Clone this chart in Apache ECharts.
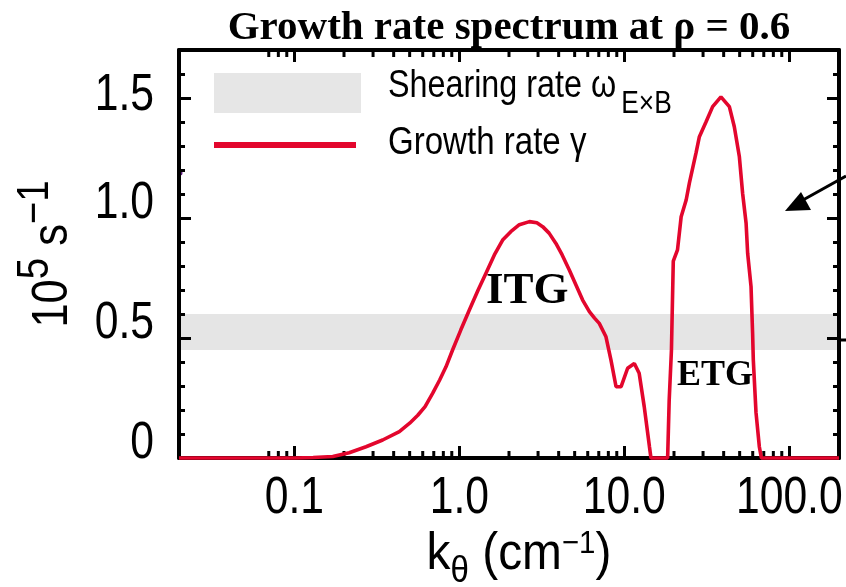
<!DOCTYPE html>
<html>
<head>
<meta charset="utf-8">
<script src="https://cdn.jsdelivr.net/npm/echarts@6/dist/echarts.min.js"></script>
<style>
  html, body { margin: 0; padding: 0; background: #fff; }
  #chart { width: 846px; height: 587px; }
</style>
</head>
<body>
<div id="chart"></div>
<script>
// Poloidal wavenumber k_theta (cm^-1)
const kTheta = [
  0.02, 0.1, 0.13, 0.171, 0.215, 0.272, 0.343, 0.433, 0.5, 0.56,
  0.62, 0.69, 0.76, 0.83, 0.91, 1.02, 1.15, 1.3, 1.45, 1.63,
  1.83, 2.05, 2.31, 2.66, 2.95, 3.2, 3.5, 3.85, 4.2, 4.64,
  5.1, 5.59, 6.14, 6.6, 7.05, 7.74, 8.3, 8.91, 9.56, 10.47,
  11.5, 12.3, 13.2, 14.2, 14.5, 18.3, 18.7, 19.3, 19.8, 21.0,
  22.1, 23.7, 24.8, 27.2, 28.5, 31.3, 34.3, 38.5, 43.3, 46.4,
  49.8, 52.1, 54.7, 55.9, 58.6, 59.9, 60.5, 62.8, 65.8, 67.7,
  200
];
// Linear growth rate gamma (10^5 s^-1)
const growthRate = [
  0, 0, 0.002, 0.006, 0.022, 0.047, 0.075, 0.11, 0.145, 0.178,
  0.214, 0.27, 0.325, 0.38, 0.45, 0.533, 0.617, 0.70, 0.77, 0.846,
  0.908, 0.943, 0.972, 0.985, 0.98, 0.964, 0.937, 0.894, 0.846, 0.783,
  0.72, 0.658, 0.61, 0.583, 0.561, 0.505, 0.408, 0.297, 0.297, 0.374,
  0.394, 0.353, 0.214, 0.047, 0, 0, 0.24, 0.45, 0.82, 0.867,
  1.005, 1.075, 1.146, 1.271, 1.339, 1.401, 1.464, 1.505, 1.464, 1.38,
  1.255, 1.103, 0.978, 0.853, 0.714, 0.52, 0.408, 0.19, 0.047, 0,
  0
];
// E x B shearing rate band (10^5 s^-1)
const shearBand = [0.45, 0.60];

// Axis ticks and labels
const xTicks = [0.1, 1, 10, 100];
const xTickLabels = ['0.1', '1.0', '10.0', '100.0'];
const xMinorTicks = [0.07, 0.08, 0.09, 0.2, 0.3, 0.4, 0.5, 0.6, 0.7, 0.8, 0.9,
                     2, 3, 4, 5, 6, 7, 8, 9, 20, 30, 40, 50, 60, 70, 80, 90];
const yTicks = [0, 0.5, 1.0, 1.5];
const yTickLabels = ['0', '0.5', '1.0', '1.5'];

// Instability regime annotations
const regimeNames = ['ITG', 'ETG'];
const regimeAnchorK = [2.58, 35.4];
const regimeAnchorGamma = [0.696, 0.342];

const X_MIN = 0.02, X_MAX = 200, Y_MAX = 1.7;
const SANS = "'Liberation Sans', Arial, sans-serif";
const SERIF = "'Liberation Serif', 'Times New Roman', serif";
const RED = '#e3062d';
const CONDENSE = 0.82;   // horizontal squeeze giving a narrow sans face

const frameLine = { show: true, onZero: false, lineStyle: { color: '#000', width: 4 } };
const majorTick = { show: true, inside: true, length: 12, lineStyle: { color: '#000', width: 3 } };
const yMinorTick = { show: true, splitNumber: 5, length: 6, lineStyle: { color: '#000', width: 3 } };
const regimeFont = [45, 36];
// vertical nudge (px) of each y tick label below its default spot
const yLabelDrop = [0, 0, 0, 12];

const chart = echarts.init(document.getElementById('chart'), null, { renderer: 'canvas' });

chart.setOption({
  animation: false,
  title: {
    text: 'Growth rate spectrum at ρ = 0.6',
    left: 509, top: 8, padding: 0, textAlign: 'center',
    textStyle: { fontFamily: SERIF, fontWeight: 'bold', fontSize: 41, color: '#000' }
  },
  grid: { left: 179, right: 7, top: 50, bottom: 129 },
  xAxis: [
    {
      type: 'log', logBase: 10, min: X_MIN, max: X_MAX, position: 'bottom',
      axisLine: frameLine, axisTick: majorTick, minorTick: { show: false },
      splitLine: { show: false }, axisLabel: { show: false }, z: 1.5
    },
    {
      type: 'log', logBase: 10, min: X_MIN, max: X_MAX, position: 'top',
      axisLine: frameLine, axisTick: majorTick, minorTick: { show: false },
      splitLine: { show: false }, axisLabel: { show: false }, z: 1.5
    }
  ],
  yAxis: [
    {
      type: 'value', min: 0, max: Y_MAX, interval: 0.5, position: 'left',
      axisLine: frameLine, axisTick: majorTick, minorTick: yMinorTick,
      splitLine: { show: false }, axisLabel: { show: false }, z: 1.5
    },
    {
      type: 'value', min: 0, max: Y_MAX, interval: 0.5, position: 'right',
      axisLine: frameLine, axisTick: majorTick, minorTick: yMinorTick,
      splitLine: { show: false }, axisLabel: { show: false }, z: 1.5
    }
  ],
  series: [
    {
      // shearing-rate band
      type: 'line', data: [], z: 1, silent: true,
      markArea: {
        silent: true,
        itemStyle: { color: '#e5e5e5' },
        data: [[{ yAxis: shearBand[0] }, { yAxis: shearBand[1] }]]
      }
    },
    {
      // logarithmic minor ticks on bottom and top frame
      type: 'custom', z: 1.6, silent: true, clip: false,
      data: xMinorTicks.map(v => [v, 0]),
      renderItem: (params, api) => {
        const b = api.coord([api.value(0), 0]);
        const t = api.coord([api.value(0), Y_MAX]);
        return {
          type: 'group',
          children: [
            { type: 'line', shape: { x1: b[0], y1: b[1], x2: b[0], y2: b[1] - 7 },
              style: { stroke: '#000', lineWidth: 3 } },
            { type: 'line', shape: { x1: t[0], y1: t[1], x2: t[0], y2: t[1] + 7 },
              style: { stroke: '#000', lineWidth: 3 } }
          ]
        };
      }
    },
    {
      name: 'Growth rate γ',
      type: 'line', z: 2, silent: true, clip: false,
      symbol: 'none', showSymbol: false,
      lineStyle: { color: RED, width: 3.6 },
      data: kTheta.map((k, i) => [k, growthRate[i]])
    }
  ]
});

// Texts placed through the axis scales
const px = v => chart.convertToPixel({ xAxisIndex: 0 }, v);
const py = v => chart.convertToPixel({ yAxisIndex: 0 }, v);
const axisY = py(0);
const axisX = px(X_MIN);

const tickText = (text, x, y, align) => ({
  type: 'text', x: x, y: y, scaleX: CONDENSE, z: 50,
  style: { text: text, align: align, verticalAlign: 'bottom',
           fontFamily: SANS, fontSize: 52, fill: '#000' }
});

const texts = [];
xTicks.forEach((v, i) => texts.push(tickText(xTickLabels[i], px(v), axisY + 67, 'center')));
yTicks.forEach((v, i) => texts.push(tickText(yTickLabels[i], axisX - 25, py(v) + 12 + yLabelDrop[i], 'right')));
regimeNames.forEach((n, i) => {
  const p = chart.convertToPixel({ xAxisIndex: 0, yAxisIndex: 0 }, [regimeAnchorK[i], regimeAnchorGamma[i]]);
  texts.push({
    type: 'text', x: p[0], y: p[1], z: 50,
    style: { text: n, align: 'center', verticalAlign: 'middle',
             fontFamily: SERIF, fontWeight: 'bold', fontSize: regimeFont[i], fill: '#000' }
  });
});

chart.setOption({
  graphic: texts.concat([
    // legend
    { type: 'rect', shape: { x: 214, y: 73, width: 147, height: 40 }, style: { fill: '#e6e6e6' } },
    { type: 'line', shape: { x1: 214, y1: 145, x2: 356, y2: 145 }, style: { stroke: RED, lineWidth: 6 } },
    {
      type: 'text', x: 388, y: 120, scaleX: 0.85,
      style: {
        text: '{m|Shearing rate ω}{s|E×B}', align: 'left', verticalAlign: 'bottom',
        rich: {
          m: { fontFamily: SANS, fontSize: 38, fill: '#000', padding: [0, 0, 14, 0], verticalAlign: 'bottom' },
          s: { fontFamily: SANS, fontSize: 31, fill: '#000', padding: [0, 0, 0, 6], verticalAlign: 'bottom' }
        }
      }
    },
    {
      type: 'text', x: 388, y: 163, scaleX: 0.87,
      style: { text: 'Growth rate γ', align: 'left', verticalAlign: 'bottom',
               fontFamily: SANS, fontSize: 38, fill: '#000' }
    },
    // x-axis title
    {
      type: 'text', x: 519, y: 590, scaleX: 0.92,
      style: {
        text: '{m|k}{b|θ}{m| (cm}{p|−1}{m|)}', align: 'center', verticalAlign: 'bottom',
        rich: {
          m: { fontFamily: SANS, fontSize: 52, fill: '#000', padding: [0, 0, 9, 0], verticalAlign: 'bottom' },
          b: { fontFamily: SANS, fontSize: 36, fill: '#000', verticalAlign: 'bottom' },
          p: { fontFamily: SANS, fontSize: 32, fill: '#000', padding: [0, 0, 30, 0], verticalAlign: 'bottom' }
        }
      }
    },
    // y-axis title
    {
      type: 'text', x: 78, y: 254, rotation: Math.PI / 2, scaleX: 0.87,
      style: {
        text: '{m|10}{p|5}{m| s}{p|−1}', align: 'center', verticalAlign: 'bottom',
        rich: {
          m: { fontFamily: SANS, fontSize: 50, fill: '#000', verticalAlign: 'bottom' },
          p: { fontFamily: SANS, fontSize: 44, fill: '#000', padding: [0, 0, 20, 0], verticalAlign: 'bottom' }
        }
      }
    },
    // pointer arrow entering from the right margin
    { type: 'polyline', shape: { points: [[846, 176], [803, 200]] }, style: { stroke: '#000', lineWidth: 3 } },
    { type: 'polygon', shape: { points: [[785, 211], [801, 192], [811, 210]] }, style: { fill: '#000' } },
    { type: 'line', shape: { x1: 839, y1: 340, x2: 846, y2: 340 }, style: { stroke: '#000', lineWidth: 3 } },
    { type: 'circle', shape: { cx: 180, cy: 173, r: 2.5 }, style: { fill: '#5b1a7a' } }
  ])
});
</script>
</body>
</html>
